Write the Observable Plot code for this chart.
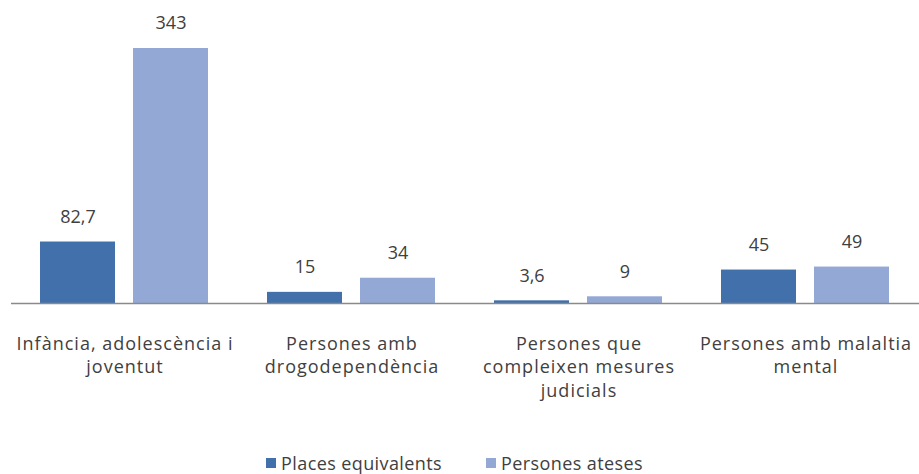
<!DOCTYPE html>
<html>
<head>
<meta charset="utf-8">
<script src="https://cdn.jsdelivr.net/npm/d3@7"></script>
<script src="https://cdn.jsdelivr.net/npm/@observablehq/plot@0.6"></script>
<style>
  body { margin: 0; background: #fff; font-family: "Open Sans", sans-serif; }
  #legend { display: flex; justify-content: center; gap: 44px; padding-top: 36px; padding-right: 10px; font-size: 18px; letter-spacing: 0.4px; color: #404040; }
  #legend span.item { display: inline-flex; align-items: center; }
  #legend i { display: inline-block; width: 10px; height: 10px; margin-right: 5px; }
  .cat text { letter-spacing: 1px; }
</style>
</head>
<body>
<div id="chart"></div>
<div id="legend"></div>
<script>
const categories = ["Infància, adolescència i joventut", "Persones amb drogodependència", "Persones que compleixen mesures judicials", "Persones amb malaltia mental"];
const categoryLines = ["Infància, adolescència i\njoventut", "Persones amb\ndrogodependència", "Persones que\ncompleixen mesures\njudicials", "Persones amb malaltia\nmental"];
const series = ["Places equivalents", "Persones ateses"];
const places = [82.7, 15, 3.6, 45];
const ateses = [343, 34, 9, 49];
const colors = ["#4170AA", "#93A8D4"];

const data = [];
categories.forEach((c, i) => {
  data.push({category: c, series: series[0], value: places[i]});
  data.push({category: c, series: series[1], value: ateses[i]});
});
const fmt = v => String(v).replace(".", ",");

const chart = Plot.plot({
  width: 919,
  height: 415,
  marginLeft: 10,
  marginRight: 0,
  marginTop: 48,
  marginBottom: 112,
  style: {fontFamily: "'Open Sans', sans-serif", background: "#fff"},
  fx: {domain: categories, padding: 0, label: null},
  x: {domain: series, paddingInner: 0.19, paddingOuter: 0.31, axis: null},
  y: {domain: [0, 343], axis: null},
  color: {domain: series, range: colors},
  marks: [
    Plot.barY(data, {fx: "category", x: "series", y: "value", fill: "series"}),
    Plot.ruleY([0], {stroke: "#8a8a8a", strokeWidth: 1.5}),
    Plot.text(data, {fx: "category", x: "series", y: "value", text: d => fmt(d.value), dy: -25, lineAnchor: "middle", fontSize: 18, fill: "#404040"}),
    Plot.axisFx({anchor: "bottom", tickSize: 0, tickPadding: 29, tickFormat: d => categoryLines[categories.indexOf(d)], fontSize: 18, lineHeight: 1.33, color: "#404040", label: null, className: "cat"})
  ]
});
document.getElementById("chart").appendChild(chart);

const legend = document.getElementById("legend");
series.forEach((s, i) => {
  const item = document.createElement("span");
  item.className = "item";
  const sw = document.createElement("i");
  sw.style.background = colors[i];
  item.appendChild(sw);
  item.appendChild(document.createTextNode(s));
  legend.appendChild(item);
});
</script>
</body>
</html>
